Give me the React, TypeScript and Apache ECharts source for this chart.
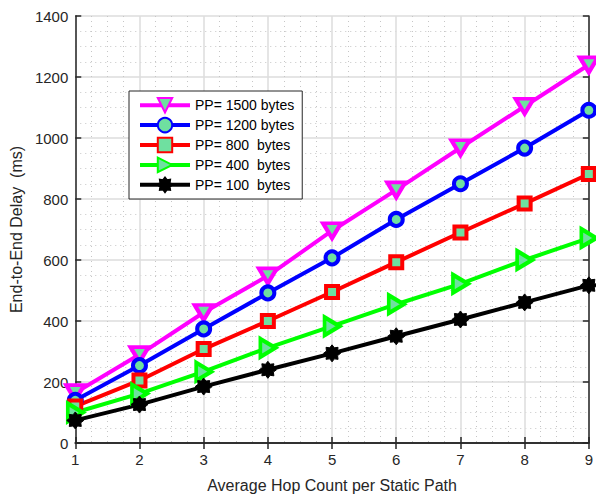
import React, { useEffect, useRef } from "react";
import * as echarts from "echarts";

const hops = ["1", "2", "3", "4", "5", "6", "7", "8", "9"];
const pp1500 = [165, 290, 428, 548, 696, 830, 968, 1104, 1240];
const pp1200 = [140, 254, 374, 492, 607, 733, 850, 967, 1091];
const pp800 = [120, 205, 308, 400, 495, 593, 690, 785, 882];
const pp400 = [100, 162, 234, 312, 383, 455, 522, 600, 672];
const pp100 = [74, 126, 185, 240, 294, 350, 405, 461, 517];
const seriesNames = ["PP= 1500 bytes", "PP= 1200 bytes", "PP= 800  bytes", "PP= 400  bytes", "PP= 100  bytes"];
const yTicks = [0, 200, 400, 600, 800, 1000, 1200, 1400];

const FILL = "#6fe0a0";
const AX = "#262626";
const FONT = "'Liberation Sans', Arial, sans-serif";

const triDown = "path://M0,0 L20,0 L10,16 Z";
const triRight = "path://M0,0 L16,10 L0,20 Z";
const star =
  "path://M20,10 L16.5,12.7 L17.07,17.07 L12.7,16.5 L10,20 L7.3,16.5 L2.93,17.07 L3.5,12.7 L0,10 L3.5,7.3 L2.93,2.93 L7.3,3.5 L10,0 L12.7,3.5 L17.07,2.93 L16.5,7.3 Z";

export default function App() {
  const ref = useRef<HTMLDivElement>(null);
  useEffect(() => {
    document.body.style.margin = "0";
    const chart = echarts.init(ref.current!, undefined, { renderer: "svg" });
    const pts = (arr: number[]) => arr.map((v, i) => [Number(hops[i]), v]);
    const mk = (
      name: string,
      data: number[],
      color: string,
      symbol: string,
      size: any,
      fill: string,
      bw: number
    ) => ({
      name,
      type: "line",
      data: pts(data),
      symbol,
      symbolSize: size,
      showAllSymbol: true,
      lineStyle: { color, width: 4 },
      itemStyle: { color: fill, borderColor: color, borderWidth: bw },
      emphasis: { disabled: true },
    });
    const axisCommon = {
      axisLine: { show: true, lineStyle: { color: AX, width: 1.5 } },
    };
    const minorLine = { show: true, lineStyle: { color: "#c6c6c6", width: 1, type: [1, 4] } };
    chart.setOption({
      animation: false,
      grid: { left: 73.5, right: 3.5, top: 16, bottom: 52 },
      legend: {
        orient: "vertical",
        left: 129,
        top: 91,
        itemWidth: 50,
        itemHeight: 18,
        itemGap: 3.5,
        padding: [6, 8, 6, 9],
        backgroundColor: "#ffffff",
        borderColor: AX,
        borderWidth: 1,
        lineStyle: { width: 4 },
        textStyle: { fontFamily: FONT, fontSize: 14, color: "#000" },
        data: seriesNames,
      },
      xAxis: [
        {
          type: "value",
          min: 1,
          max: 9,
          interval: 1,
          ...axisCommon,
          axisTick: { show: true, inside: true, length: 6, lineStyle: { color: AX, width: 1.5 } },
          axisLabel: { fontFamily: FONT, fontSize: 15, color: AX, margin: 9 },
          splitLine: { show: true, lineStyle: { color: "#dcdcdc", width: 1.5 } },
          minorTick: { show: false, splitNumber: 4 },
          minorSplitLine: minorLine,
          name: "Average Hop Count per Static Path",
          nameLocation: "middle",
          nameGap: 34,
          nameTextStyle: { fontFamily: FONT, fontSize: 16, color: AX },
        },
        {
          type: "value",
          position: "top",
          min: 1,
          max: 9,
          interval: 1,
          ...axisCommon,
          axisTick: { show: true, inside: true, length: 6, lineStyle: { color: AX, width: 1.5 } },
          axisLabel: { show: false },
          splitLine: { show: false },
        },
      ],
      yAxis: [
        {
          type: "value",
          min: yTicks[0],
          max: yTicks[yTicks.length - 1],
          interval: 200,
          ...axisCommon,
          axisTick: { show: true, inside: true, length: 6, lineStyle: { color: AX, width: 1.5 } },
          axisLabel: { fontFamily: FONT, fontSize: 15, color: AX, margin: 7, formatter: (v: number) => String(v) },
          splitLine: { show: true, lineStyle: { color: "#dcdcdc", width: 1.5 } },
          minorTick: { show: false, splitNumber: 4 },
          minorSplitLine: minorLine,
          name: "End-to-End Delay  (ms)",
          nameLocation: "middle",
          nameGap: 44,
          nameTextStyle: { fontFamily: FONT, fontSize: 16, color: AX },
        },
        {
          type: "value",
          position: "right",
          min: 0,
          max: 1400,
          interval: 200,
          ...axisCommon,
          axisTick: { show: true, inside: true, length: 6, lineStyle: { color: AX, width: 1.5 } },
          axisLabel: { show: false },
          splitLine: { show: false },
        },
      ],
      series: [
        mk(seriesNames[0], pp1500, "#ff00ff", triDown, [18, 15], FILL, 4),
        mk(seriesNames[1], pp1200, "#0000ff", "circle", 13, FILL, 4),
        mk(seriesNames[2], pp800, "#ff0000", "rect", 12, FILL, 4),
        mk(seriesNames[3], pp400, "#00ff00", triRight, [15, 18], FILL, 4),
        mk(seriesNames[4], pp100, "#000000", star, 17, "#000000", 1),
      ],
    });
    return () => chart.dispose();
  }, []);
  return <div ref={ref} style={{ width: 596, height: 498 }} />;
}
